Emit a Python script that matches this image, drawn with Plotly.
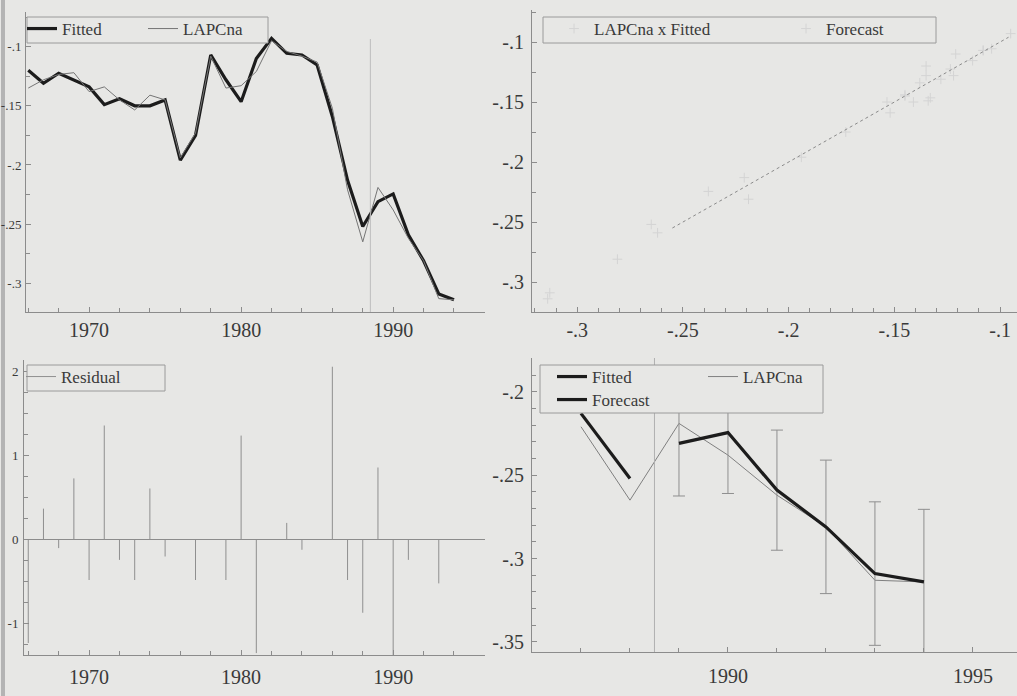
import plotly.graph_objects as go

# ---------------- data ----------------
years = list(range(1966, 1995))
lapcna = [-0.135, -0.128, -0.1235, -0.122, -0.138, -0.134, -0.145, -0.1535, -0.141, -0.145,
          -0.194, -0.173, -0.108, -0.135, -0.133, -0.121, -0.095, -0.104, -0.108, -0.113,
          -0.152, -0.221, -0.265, -0.219, -0.238, -0.262, -0.281, -0.313, -0.314]

fit_years = list(range(1966, 1989))
fitted = [-0.120, -0.131, -0.1225, -0.128, -0.134, -0.149, -0.144, -0.150, -0.150, -0.145,
          -0.196, -0.175, -0.107, -0.128, -0.1465, -0.110, -0.093, -0.1056, -0.107, -0.1155,
          -0.159, -0.213, -0.252]

fc_years = list(range(1989, 1995))
forecast = [-0.231, -0.2245, -0.259, -0.281, -0.309, -0.314]
fc_2se = [0.0315, 0.0365, 0.036, 0.040, 0.043, 0.0435]

resid = [-1.23, 0.37, -0.10, 0.73, -0.48, 1.36, -0.24, -0.48, 0.61, -0.20,
         0.0, -0.48, 0.0, -0.48, 1.24, -1.35, 0.0, 0.20, -0.12, 0.0,
         2.06, -0.48, -0.87, 0.86, -1.39, -0.24, 0.0, -0.52, 0.0]

reg_x = [-0.255, -0.096]
reg_y = [-0.255, -0.096]

# first year shown in the forecast panel
bp_from = 1987

# ---------------- layout helpers ----------------
W, H = 1017, 696
FONT = "Liberation Serif"
BG = "#e7e7e5"
AX = "#8c8c8c"
TXT = "#3a3a3a"


def dom_x(p0, p1):
    return [p0 / W, p1 / W]


def dom_y(top, bottom):
    return [1 - bottom / H, 1 - top / H]


fig = go.Figure()

# ---- Top-left: Fitted & LAPCna ----
fig.add_trace(go.Scatter(x=years, y=fitted + forecast, mode="lines", name="Fitted",
                         line=dict(color="#1c1c1c", width=3.2),
                         xaxis="x", yaxis="y", legend="legend"))
fig.add_trace(go.Scatter(x=years, y=lapcna, mode="lines", name="LAPCna",
                         line=dict(color="#757575", width=1),
                         xaxis="x", yaxis="y", legend="legend"))

# ---- Top-right: cross plot ----
mk = dict(symbol="cross-thin", size=7, color="#d4d4d4", line=dict(width=1, color="#d4d4d4"))
fig.add_trace(go.Scatter(x=lapcna[:len(fitted)], y=fitted, mode="markers", name="LAPCna x Fitted",
                         marker=mk, xaxis="x2", yaxis="y2", legend="legend2"))
fig.add_trace(go.Scatter(x=lapcna[len(fitted):], y=forecast, mode="markers", name="Forecast",
                         marker=mk, xaxis="x2", yaxis="y2", legend="legend2"))
fig.add_trace(go.Scatter(x=reg_x, y=reg_y, mode="lines", showlegend=False,
                         line=dict(color="#8a8a8a", width=1, dash="dot"),
                         xaxis="x2", yaxis="y2"))

# ---- Bottom-left: residual needles ----
nx, ny = [], []
for yr, r in zip(years, resid):
    nx += [yr, yr, None]
    ny += [0, r, None]
fig.add_trace(go.Scatter(x=nx, y=ny, mode="lines", name="Residual",
                         line=dict(color="#8f8f8f", width=1),
                         xaxis="x3", yaxis="y3", legend="legend3"))

# ---- Bottom-right: forecasts ----
i_f = fit_years.index(bp_from)
i_a = years.index(bp_from)
fig.add_trace(go.Scatter(x=fit_years[i_f:], y=fitted[i_f:], mode="lines", name="Fitted",
                         line=dict(color="#1c1c1c", width=3.2),
                         xaxis="x4", yaxis="y4", legend="legend4"))
fig.add_trace(go.Scatter(x=years[i_a:], y=lapcna[i_a:], mode="lines", name="LAPCna",
                         line=dict(color="#808080", width=1),
                         xaxis="x4", yaxis="y4", legend="legend4"))
fig.add_trace(go.Scatter(x=fc_years, y=forecast, mode="lines", name="Forecast",
                         line=dict(color="#1c1c1c", width=3.2),
                         error_y=dict(type="data", array=fc_2se, color="#8f8f8f",
                                      thickness=1, width=6),
                         xaxis="x4", yaxis="y4", legend="legend5"))

# ---------------- axes ----------------
tickfont = dict(family=FONT, size=20, color=TXT)
smallfont = dict(family=FONT, size=13, color=TXT)
common = dict(showgrid=False, zeroline=False, showline=True, linecolor=AX, linewidth=1,
              ticks="inside", ticklen=5, tickcolor=AX, mirror=False)


def minor(d):
    return dict(dtick=d, ticks="inside", ticklen=4, tickcolor=AX, showgrid=False)


yr_ticks = [1970, 1980, 1990]
v_ticks = [-0.3, -0.25, -0.2, -0.15, -0.1]
v_text = ["-.3", "-.25", "-.2", "-.15", "-.1"]

fig.update_layout(
    xaxis=dict(domain=dom_x(26, 485), range=[1965.85, 1996.04], anchor="y",
               tickvals=yr_ticks, tickfont=tickfont, minor=minor(2), **common),
    yaxis=dict(domain=dom_y(12, 312), range=[-0.3243, -0.0707], anchor="x",
               tickvals=v_ticks, ticktext=v_text, tickfont=smallfont, minor=minor(0.025),
               ticklabelstandoff=1, **common),
    xaxis2=dict(domain=dom_x(532, 1017), range=[-0.3214, -0.092], anchor="y2",
                tickvals=v_ticks, ticktext=v_text, tickfont=tickfont, minor=minor(0.01), **common),
    yaxis2=dict(domain=dom_y(10, 312), range=[-0.325, -0.0733], anchor="x2",
                tickvals=v_ticks, ticktext=v_text, tickfont=tickfont, minor=minor(0.025),
                ticklabelstandoff=3, **common),
    xaxis3=dict(domain=dom_x(24, 485), range=[1965.72, 1996.04], anchor="y3",
                tickvals=yr_ticks, tickfont=tickfont, minor=minor(2), ticklabelstandoff=4, **common),
    yaxis3=dict(domain=dom_y(360, 655), range=[-1.373, 2.14], anchor="x3",
                tickvals=[-1, 0, 1, 2], ticktext=["-1", "0", "1", "2"], tickfont=smallfont,
                minor=minor(0.25), ticklabelstandoff=2, **common),
    xaxis4=dict(domain=dom_x(532, 1017), range=[1986.0, 1995.9], anchor="y4",
                tickvals=[1990, 1995], tickfont=tickfont, minor=minor(1), ticklabelstandoff=6,
                **common),
    yaxis4=dict(domain=dom_y(358, 652), range=[-0.356, -0.1798], anchor="x4",
                tickvals=[-0.35, -0.3, -0.25, -0.2], ticktext=["-.35", "-.3", "-.25", "-.2"],
                tickfont=tickfont, minor=minor(0.01), ticklabelstandoff=3, **common),
)
fig.update_yaxes(zeroline=True, zerolinecolor=AX, zerolinewidth=1, selector=dict(anchor="x3"))

# ---------------- legends (boxes drawn as shapes) ----------------
lfont = dict(family=FONT, size=17, color=TXT)
lg = dict(orientation="h", xanchor="left", yanchor="top", bgcolor="rgba(0,0,0,0)",
          borderwidth=0, font=lfont, itemclick=False, tracegroupgap=0)
fig.update_layout(
    legend=dict(x=22 / W, y=1 - 11 / H, entrywidth=76, **lg),
    legend2=dict(x=554 / W, y=1 - 11 / H, entrywidth=187, **lg),
    legend3=dict(x=21 / W, y=1 - 359 / H, entrywidth=60, **lg),
    legend4=dict(x=552 / W, y=1 - 359 / H, entrywidth=106, **lg),
    legend5=dict(x=552 / W, y=1 - 382 / H, entrywidth=80, **lg),
)

# ---------------- shapes ----------------
fc_start = (fit_years[-1] + fc_years[0]) / 2
box_px = [(27, 268, 17, 43), (543, 936, 17, 43), (27, 165, 365, 391), (540, 823, 365, 413)]
shapes = [
    dict(type="line", xref="x", yref="y domain", x0=fc_start, x1=fc_start, y0=0, y1=0.91,
         line=dict(color="#bdbdbd", width=1)),
    dict(type="line", xref="x4", yref="y4 domain", x0=fc_start, x1=fc_start, y0=0, y1=1,
         line=dict(color="#b0b0b0", width=1)),
    # scanned page edge
    dict(type="rect", xref="paper", yref="paper", x0=1 / W, x1=5 / W, y0=0, y1=1,
         line=dict(width=0), fillcolor="#b4b4b4", layer="below"),
]
for (l, r, t, b) in box_px:
    shapes.append(dict(type="rect", xref="paper", yref="paper", x0=l / W, x1=r / W,
                       y0=1 - b / H, y1=1 - t / H, line=dict(color="#9a9a9a", width=1),
                       fillcolor=BG, layer="above"))
fig.update_layout(shapes=shapes)

fig.update_layout(width=W, height=H, margin=dict(l=0, r=0, t=0, b=0, autoexpand=False),
                  paper_bgcolor=BG, plot_bgcolor=BG, showlegend=True)

fig.write_html("out.html", config={"displayModeBar": False},
               post_script="document.body.style.margin='0px';")
